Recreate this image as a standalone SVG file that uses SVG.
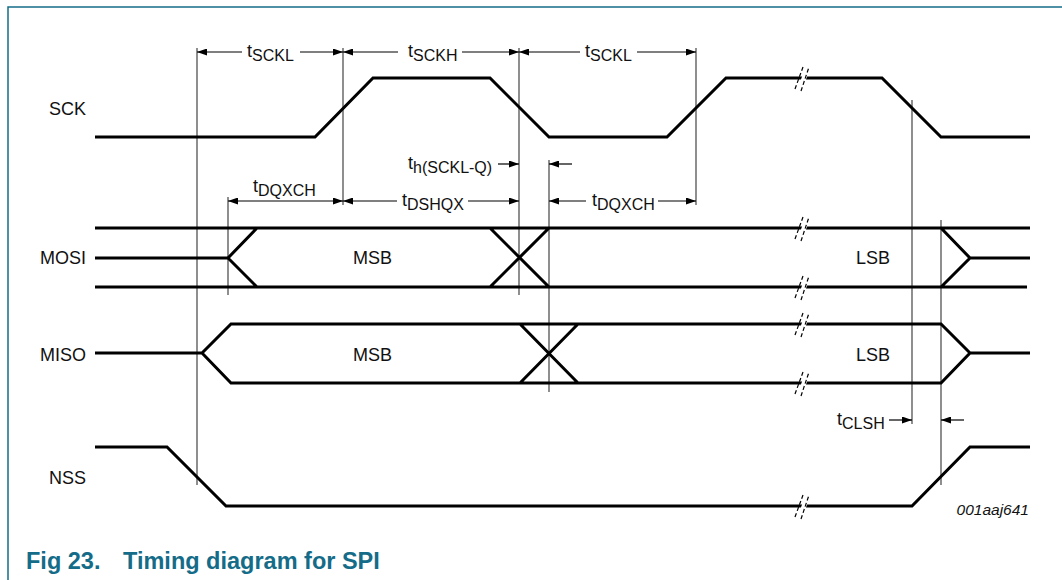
<svg xmlns="http://www.w3.org/2000/svg" width="1062" height="580" viewBox="0 0 1062 580">
<defs>
<marker id="ah" markerUnits="userSpaceOnUse" markerWidth="10" markerHeight="7" refX="10" refY="3.5" orient="auto-start-reverse"><path d="M0,0 L10,3.5 L0,7 z" fill="#000"/></marker>
<style>
.sig{fill:none;stroke:#000;stroke-width:3;stroke-linejoin:miter}
.vl{stroke:#444;stroke-width:1.2;fill:none}
.dim{stroke:#000;stroke-width:1.2;fill:none;marker-end:url(#ah)}
.lbl{font-family:"Liberation Sans",Arial,sans-serif;font-size:18px;fill:#111}
.sub{font-size:16px}
.brk{stroke:#000;stroke-width:1.2;stroke-dasharray:4,2.5;fill:none}
.gap{fill:#fff;stroke:none}
.cap{font-family:"Liberation Sans",Arial,sans-serif;font-size:23.5px;font-weight:bold;fill:#146c88}
.id{font-family:"Liberation Sans",Arial,sans-serif;font-size:15.5px;font-style:italic;fill:#111}
</style>
</defs>
<rect width="1062" height="580" fill="#fff"/>
<path d="M8,580 V7 H1062" fill="none" stroke="#146c88" stroke-width="1.5"/>

<g id="guides">
<line class="vl" x1="197" y1="48" x2="197" y2="485"/>
<line class="vl" x1="343" y1="48" x2="343" y2="205"/>
<line class="vl" x1="519" y1="48" x2="519" y2="295"/>
<line class="vl" x1="696" y1="48" x2="696" y2="205"/>
<line class="vl" x1="228" y1="197" x2="228" y2="295"/>
<line class="vl" x1="549" y1="160" x2="549" y2="392"/>
<line class="vl" x1="912" y1="100" x2="912" y2="424"/>
<line class="vl" x1="941" y1="220" x2="941" y2="485"/>
</g>

<g id="SCK">
<text class="lbl" x="49" y="115">SCK</text>
<path class="sig" d="M95,137 H315 L373,78 H490 L549,137 H667 L726,78 H882 L941,137 H1030"/>
</g>

<g id="MOSI">
<text class="lbl" x="40" y="264">MOSI</text>
<path class="sig" d="M95,228 H1030 M95,287 H1027 M95,258 H228 L257,228 M228,258 L257,287 M490,228 L549,287 M490,287 L549,228 M941,228 L970,258 L941,287 M970,258 H1030"/>
<text class="lbl" x="353" y="264">MSB</text>
<text class="lbl" x="856" y="264">LSB</text>
</g>

<g id="MISO">
<text class="lbl" x="40" y="361">MISO</text>
<path class="sig" d="M95,353 H202 L231,324 H941 L970,353 L941,383 H231 L202,353 M520,324 L578,383 M520,383 L578,324 M970,353 H1030"/>
<text class="lbl" x="353" y="361">MSB</text>
<text class="lbl" x="856" y="361">LSB</text>
</g>

<g id="NSS">
<text class="lbl" x="49" y="484">NSS</text>
<path class="sig" d="M95,447 H167 L226,506 H912 L970,447 H1030"/>
</g>

<g id="breaks">
<g transform="translate(804,78)"><path class="gap" d="M-6,10 L1,-10 L6,-10 L-1,10 z"/><path class="brk" d="M-9,11 L-1,-11 M-3,13 L5,-11"/></g>
<g transform="translate(804,228)"><path class="gap" d="M-6,10 L1,-10 L6,-10 L-1,10 z"/><path class="brk" d="M-9,11 L-1,-11 M-3,13 L5,-11"/></g>
<g transform="translate(804,287)"><path class="gap" d="M-6,10 L1,-10 L6,-10 L-1,10 z"/><path class="brk" d="M-9,11 L-1,-11 M-3,13 L5,-11"/></g>
<g transform="translate(804,324)"><path class="gap" d="M-6,10 L1,-10 L6,-10 L-1,10 z"/><path class="brk" d="M-9,11 L-1,-11 M-3,13 L5,-11"/></g>
<g transform="translate(804,383)"><path class="gap" d="M-6,10 L1,-10 L6,-10 L-1,10 z"/><path class="brk" d="M-9,11 L-1,-11 M-3,13 L5,-11"/></g>
<g transform="translate(804,506)"><path class="gap" d="M-6,10 L1,-10 L6,-10 L-1,10 z"/><path class="brk" d="M-9,11 L-1,-11 M-3,13 L5,-11"/></g>
</g>

<g id="connectors">
<line class="dim" x1="242" y1="52" x2="197" y2="52"/>
<line class="dim" x1="300" y1="52" x2="343" y2="52"/>
<line class="dim" x1="398" y1="52" x2="343" y2="52"/>
<line class="dim" x1="462" y1="52" x2="519" y2="52"/>
<line class="dim" x1="580" y1="52" x2="519" y2="52"/>
<line class="dim" x1="637" y1="52" x2="696" y2="52"/>
<line class="dim" x1="228" y1="201" x2="343" y2="201" marker-start="url(#ah)"/>
<line class="dim" x1="397" y1="201" x2="343" y2="201"/>
<line class="dim" x1="468" y1="201" x2="519" y2="201"/>
<line class="dim" x1="586" y1="201" x2="549" y2="201"/>
<line class="dim" x1="658" y1="201" x2="696" y2="201"/>
<line class="dim" x1="498" y1="164" x2="519" y2="164"/>
<line class="dim" x1="572" y1="164" x2="549" y2="164"/>
<line class="dim" x1="889" y1="420" x2="912" y2="420"/>
<line class="dim" x1="964" y1="420" x2="941" y2="420"/>
</g>

<g id="timing-labels">
<text class="lbl" x="247" y="57">t<tspan class="sub" dy="4">SCKL</tspan></text>
<text class="lbl" x="408" y="57">t<tspan class="sub" dy="4">SCKH</tspan></text>
<text class="lbl" x="585" y="57">t<tspan class="sub" dy="4">SCKL</tspan></text>
<text class="lbl" x="253" y="192">t<tspan class="sub" dy="4">DQXCH</tspan></text>
<text class="lbl" x="402" y="206">t<tspan class="sub" dy="4">DSHQX</tspan></text>
<text class="lbl" x="592" y="206">t<tspan class="sub" dy="4">DQXCH</tspan></text>
<text class="lbl" x="408" y="169">t<tspan class="sub" dy="4">h(SCKL-Q)</tspan></text>
<text class="lbl" x="837" y="425">t<tspan class="sub" dy="4">CLSH</tspan></text>
</g>

<text class="id" x="1029" y="515" text-anchor="end">001aaj641</text>
<text class="cap" x="26" y="569">Fig 23.<tspan x="123">Timing diagram for SPI</tspan></text>
</svg>
